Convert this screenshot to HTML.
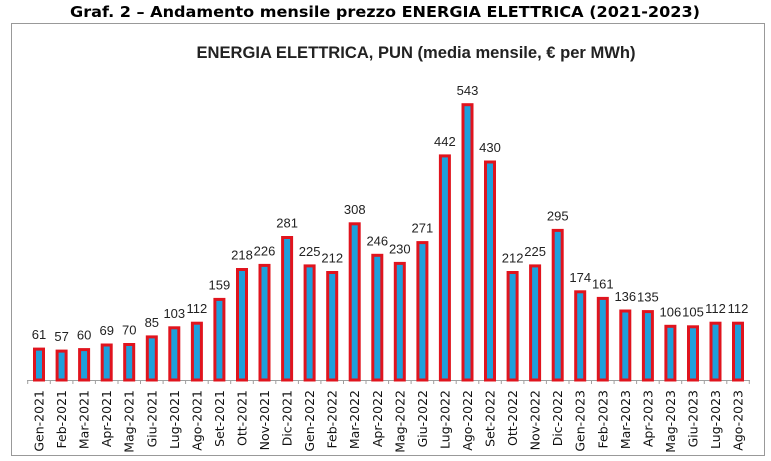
<!DOCTYPE html>
<html><head><meta charset="utf-8"><style>
html,body{margin:0;padding:0;background:#fff;}
svg{display:block;}
.v{font-family:"Liberation Sans",sans-serif;font-size:13px;fill:#222;text-anchor:middle;}
.c{font-family:"DejaVu Sans",sans-serif;font-size:12.5px;fill:#111;text-anchor:end;}
rect.b{fill:#1ea0dc;stroke:#e0141e;stroke-width:3;}
</style></head><body>
<svg width="771" height="461" viewBox="0 0 771 461" xmlns="http://www.w3.org/2000/svg">
<text x="385" y="17" text-anchor="middle" font-family="DejaVu Sans,sans-serif" font-weight="bold" font-size="15" textLength="630" lengthAdjust="spacingAndGlyphs" fill="#000">Graf. 2 – Andamento mensile prezzo ENERGIA ELETTRICA (2021-2023)</text>
<rect x="11.5" y="23.5" width="753" height="432" fill="#fff" stroke="#999" stroke-width="1"/>
<text x="416" y="58" text-anchor="middle" font-family="Liberation Sans,sans-serif" font-weight="bold" font-size="17" textLength="439" lengthAdjust="spacingAndGlyphs" fill="#222">ENERGIA ELETTRICA,  PUN (media mensile, € per MWh)</text>
<line x1="27" y1="380.5" x2="750" y2="380.5" stroke="#a0a0a0" stroke-width="1"/>
<g stroke="#a0a0a0" stroke-width="1">
<path d="M27.7 380v4M50.3 380v4M72.9 380v4M95.4 380v4M118 380v4M140.5 380v4M163.1 380v4M185.6 380v4M208.2 380v4M230.7 380v4M253.3 380v4M275.8 380v4M298.4 380v4M320.9 380v4M343.5 380v4M366 380v4M388.6 380v4M411.1 380v4M433.7 380v4M456.2 380v4M478.8 380v4M501.3 380v4M523.9 380v4M546.4 380v4M569 380v4M591.5 380v4M614.1 380v4M636.6 380v4M659.2 380v4M681.7 380v4M704.3 380v4M726.8 380v4M749.3 380v4"/>
</g>
<g transform="translate(39,0)"><rect class="b" x="-4.5" y="349.1" width="9" height="30.9"/><text class="v" y="339">61</text><text class="c" transform="translate(4.5,390) rotate(-90)">Gen-2021</text></g>
<g transform="translate(61.6,0)"><rect class="b" x="-4.5" y="351.1" width="9" height="28.9"/><text class="v" y="341">57</text><text class="c" transform="translate(4.5,390) rotate(-90)">Feb-2021</text></g>
<g transform="translate(84.1,0)"><rect class="b" x="-4.5" y="349.6" width="9" height="30.4"/><text class="v" y="339.5">60</text><text class="c" transform="translate(4.5,390) rotate(-90)">Mar-2021</text></g>
<g transform="translate(106.7,0)"><rect class="b" x="-4.5" y="345" width="9" height="35"/><text class="v" y="335">69</text><text class="c" transform="translate(4.5,390) rotate(-90)">Apr-2021</text></g>
<g transform="translate(129.2,0)"><rect class="b" x="-4.5" y="344.5" width="9" height="35.5"/><text class="v" y="334.5">70</text><text class="c" transform="translate(4.5,390) rotate(-90)">Mag-2021</text></g>
<g transform="translate(151.8,0)"><rect class="b" x="-4.5" y="336.9" width="9" height="43.1"/><text class="v" y="327">85</text><text class="c" transform="translate(4.5,390) rotate(-90)">Giu-2021</text></g>
<g transform="translate(174.3,0)"><rect class="b" x="-4.5" y="327.8" width="9" height="52.2"/><text class="v" y="318">103</text><text class="c" transform="translate(4.5,390) rotate(-90)">Lug-2021</text></g>
<g transform="translate(196.9,0)"><rect class="b" x="-4.5" y="323.2" width="9" height="56.8"/><text class="v" y="313">112</text><text class="c" transform="translate(4.5,390) rotate(-90)">Ago-2021</text></g>
<g transform="translate(219.4,0)"><rect class="b" x="-4.5" y="299.4" width="9" height="80.6"/><text class="v" y="289.5">159</text><text class="c" transform="translate(4.5,390) rotate(-90)">Set-2021</text></g>
<g transform="translate(242,0)"><rect class="b" x="-4.5" y="269.5" width="9" height="110.5"/><text class="v" y="259.5">218</text><text class="c" transform="translate(4.5,390) rotate(-90)">Ott-2021</text></g>
<g transform="translate(264.5,0)"><rect class="b" x="-4.5" y="265.4" width="9" height="114.6"/><text class="v" y="255.5">226</text><text class="c" transform="translate(4.5,390) rotate(-90)">Nov-2021</text></g>
<g transform="translate(287.1,0)"><rect class="b" x="-4.5" y="237.5" width="9" height="142.5"/><text class="v" y="227.5">281</text><text class="c" transform="translate(4.5,390) rotate(-90)">Dic-2021</text></g>
<g transform="translate(309.6,0)"><rect class="b" x="-4.5" y="265.9" width="9" height="114.1"/><text class="v" y="256">225</text><text class="c" transform="translate(4.5,390) rotate(-90)">Gen-2022</text></g>
<g transform="translate(332.2,0)"><rect class="b" x="-4.5" y="272.5" width="9" height="107.5"/><text class="v" y="262.5">212</text><text class="c" transform="translate(4.5,390) rotate(-90)">Feb-2022</text></g>
<g transform="translate(354.7,0)"><rect class="b" x="-4.5" y="223.8" width="9" height="156.2"/><text class="v" y="214">308</text><text class="c" transform="translate(4.5,390) rotate(-90)">Mar-2022</text></g>
<g transform="translate(377.3,0)"><rect class="b" x="-4.5" y="255.3" width="9" height="124.7"/><text class="v" y="245.5">246</text><text class="c" transform="translate(4.5,390) rotate(-90)">Apr-2022</text></g>
<g transform="translate(399.8,0)"><rect class="b" x="-4.5" y="263.4" width="9" height="116.6"/><text class="v" y="253.5">230</text><text class="c" transform="translate(4.5,390) rotate(-90)">Mag-2022</text></g>
<g transform="translate(422.4,0)"><rect class="b" x="-4.5" y="242.6" width="9" height="137.4"/><text class="v" y="232.5">271</text><text class="c" transform="translate(4.5,390) rotate(-90)">Giu-2022</text></g>
<g transform="translate(444.9,0)"><rect class="b" x="-4.5" y="155.9" width="9" height="224.1"/><text class="v" y="146">442</text><text class="c" transform="translate(4.5,390) rotate(-90)">Lug-2022</text></g>
<g transform="translate(467.5,0)"><rect class="b" x="-4.5" y="104.7" width="9" height="275.3"/><text class="v" y="95">543</text><text class="c" transform="translate(4.5,390) rotate(-90)">Ago-2022</text></g>
<g transform="translate(490,0)"><rect class="b" x="-4.5" y="162" width="9" height="218"/><text class="v" y="152">430</text><text class="c" transform="translate(4.5,390) rotate(-90)">Set-2022</text></g>
<g transform="translate(512.6,0)"><rect class="b" x="-4.5" y="272.5" width="9" height="107.5"/><text class="v" y="262.5">212</text><text class="c" transform="translate(4.5,390) rotate(-90)">Ott-2022</text></g>
<g transform="translate(535.1,0)"><rect class="b" x="-4.5" y="265.9" width="9" height="114.1"/><text class="v" y="256">225</text><text class="c" transform="translate(4.5,390) rotate(-90)">Nov-2022</text></g>
<g transform="translate(557.7,0)"><rect class="b" x="-4.5" y="230.4" width="9" height="149.6"/><text class="v" y="220.5">295</text><text class="c" transform="translate(4.5,390) rotate(-90)">Dic-2022</text></g>
<g transform="translate(580.2,0)"><rect class="b" x="-4.5" y="291.8" width="9" height="88.2"/><text class="v" y="282">174</text><text class="c" transform="translate(4.5,390) rotate(-90)">Gen-2023</text></g>
<g transform="translate(602.8,0)"><rect class="b" x="-4.5" y="298.4" width="9" height="81.6"/><text class="v" y="288.5">161</text><text class="c" transform="translate(4.5,390) rotate(-90)">Feb-2023</text></g>
<g transform="translate(625.3,0)"><rect class="b" x="-4.5" y="311" width="9" height="69"/><text class="v" y="301">136</text><text class="c" transform="translate(4.5,390) rotate(-90)">Mar-2023</text></g>
<g transform="translate(647.9,0)"><rect class="b" x="-4.5" y="311.6" width="9" height="68.4"/><text class="v" y="301.5">135</text><text class="c" transform="translate(4.5,390) rotate(-90)">Apr-2023</text></g>
<g transform="translate(670.4,0)"><rect class="b" x="-4.5" y="326.3" width="9" height="53.7"/><text class="v" y="316.5">106</text><text class="c" transform="translate(4.5,390) rotate(-90)">Mag-2023</text></g>
<g transform="translate(693,0)"><rect class="b" x="-4.5" y="326.8" width="9" height="53.2"/><text class="v" y="316.5">105</text><text class="c" transform="translate(4.5,390) rotate(-90)">Giu-2023</text></g>
<g transform="translate(715.5,0)"><rect class="b" x="-4.5" y="323.2" width="9" height="56.8"/><text class="v" y="313">112</text><text class="c" transform="translate(4.5,390) rotate(-90)">Lug-2023</text></g>
<g transform="translate(738,0)"><rect class="b" x="-4.5" y="323.2" width="9" height="56.8"/><text class="v" y="313">112</text><text class="c" transform="translate(4.5,390) rotate(-90)">Ago-2023</text></g>
</svg>
</body></html>
